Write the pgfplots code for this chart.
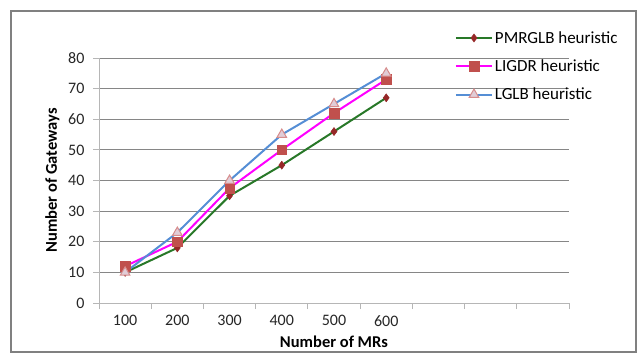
\documentclass[border=0pt]{standalone}
\usepackage{pgfplots}
\pgfplotsset{compat=1.18}
\usepackage{fontspec}
\setmainfont{Carlito}
\definecolor{gline}{RGB}{40,120,40}
\definecolor{gmark}{RGB}{150,40,40}
\definecolor{mline}{RGB}{255,0,255}
\definecolor{smark}{RGB}{192,80,77}
\definecolor{bline}{RGB}{85,142,213}
\definecolor{tfill}{RGB}{225,205,215}
\definecolor{tedge}{RGB}{215,140,140}
\definecolor{gridc}{RGB}{134,134,134}
\definecolor{framec}{RGB}{128,128,128}
\begin{document}
\begin{tikzpicture}[x=1pt,y=1pt]
\useasboundingbox (0,0) rectangle (640,354);
\draw[framec,line width=2pt] (11,2) rectangle (636,343);
\begin{axis}[
  scale only axis,
  width=470pt, height=245pt,
  at={(99pt,51pt)}, anchor=south west,
  xmin=0, xmax=9, ymin=0, ymax=80,
  axis lines=left,
  axis line style={-, draw=gridc!60, line width=1pt},
  ytick={0,10,...,80},
  ymajorgrids,
  grid style={gridc, line width=1pt},
  xtick={0,...,9},
  xticklabels={},
  extra x ticks={0.5,1.5,2.5,3.5,4.5,5.5},
  extra x tick labels={100,200,300,400,500,600},
  extra x tick style={major tick length=0pt, grid=none},
  tick align=outside,
  major tick length=6pt,
  tick style={draw=gridc!60, line width=1pt},
  /pgf/number format/assume math mode=true,
  ticklabel style={font=\fontsize{16}{18}\selectfont, text=black!85},
  yticklabel style={xshift=-5pt},
  xticklabel style={yshift=-9pt},
  xlabel={\textbf{Number of MRs}},
  ylabel={\textbf{Number of Gateways}},
  label style={font=\fontsize{16.5}{18}\selectfont},
  xlabel style={at={(axis description cs:0.5,0)}, anchor=base, yshift=-44pt},
  ylabel style={at={(axis description cs:0,0.5)}, anchor=base, yshift=42pt},
  legend style={draw=none, fill=none, at={(axis description cs:0.757,1.118)}, anchor=north west,
    font=\fontsize{17}{19}\selectfont, row sep=11pt, inner sep=0pt, cells={anchor=west}},
  legend cell align=left,
  legend image code/.code={\draw[mark repeat=2, mark phase=2, #1] plot coordinates {(0pt,0pt) (18pt,0pt) (36pt,0pt)};},
  legend image post style={line width=2pt},
  clip=false,
]
\addplot[gline, line width=2pt, mark=diamond*, mark size=4pt, mark options={fill=gmark, draw=gmark, line width=0.5pt}]
  coordinates {(0.5,10) (1.5,18) (2.5,35) (3.5,45) (4.5,56) (5.5,67)};
\addlegendentry{PMRGLB heuristic}
\addplot[mline, line width=2pt, mark=square*, mark size=4.8pt, mark options={fill=smark, draw=smark, line width=0.5pt}]
  coordinates {(0.5,12) (1.5,20) (2.5,37.5) (3.5,50) (4.5,62) (5.5,73)};
\addlegendentry{LIGDR heuristic}
\addplot[bline, line width=2pt, mark=triangle*, mark size=5.5pt, mark options={fill=tfill, draw=tedge, line width=1pt}]
  coordinates {(0.5,10) (1.5,23) (2.5,40) (3.5,55) (4.5,65) (5.5,75)};
\addlegendentry{LGLB heuristic}
\end{axis}
\end{tikzpicture}
\end{document}
